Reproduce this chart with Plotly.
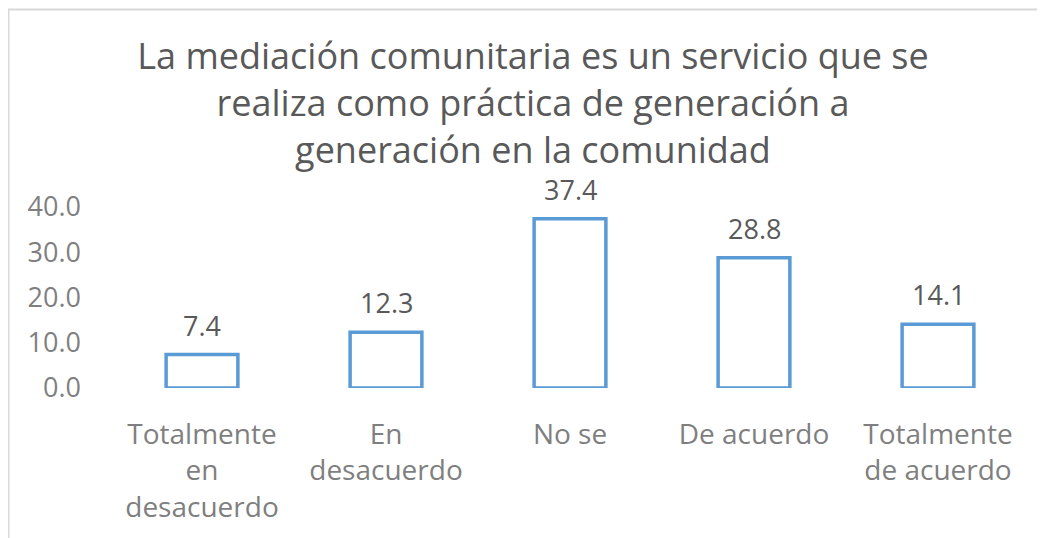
import plotly.graph_objects as go

categories = ["Totalmente<br>en<br>desacuerdo", "En<br>desacuerdo", "No se", "De acuerdo", "Totalmente<br>de acuerdo"]
values = [7.4, 12.3, 37.4, 28.8, 14.1]
y_ticks = [0, 10, 20, 30, 40]
title_text = "La mediación comunitaria es un servicio que se<br>realiza como práctica de generación a<br>generación en la comunidad"

W, H = 1045, 538
OFF = 8  # page body offset
L, R, T, B = 110 - OFF, 15 + OFF, 207 - OFF, 150 + OFF
pw, ph = W - L - R, H - T - B

fig = go.Figure()
fig.add_trace(go.Bar(
    x=categories, y=values,
    marker=dict(color="white", line=dict(color="#5B9BD5", width=3.5)),
    width=0.39,
))

for c, v in zip(categories, values):
    fig.add_annotation(x=c, y=v, text=f"{v:.1f}", showarrow=False,
                       yanchor="bottom", yshift=9,
                       font=dict(family="Open Sans", size=27, color="#595959"))

def px_to_paper_x(px):
    return (px - OFF - L) / pw

def px_to_paper_y(py):
    return (H - B - (py - OFF)) / ph

fig.add_shape(type="path", xref="paper", yref="paper",
              path=f"M {px_to_paper_x(8.5)} {px_to_paper_y(560)} L {px_to_paper_x(8.5)} {px_to_paper_y(9.5)} L {px_to_paper_x(1060)} {px_to_paper_y(9.5)}",
              line=dict(color="#D9D9D9", width=2))

fig.update_layout(
    width=W, height=H,
    margin=dict(l=L, r=R, t=T, b=B),
    paper_bgcolor="white", plot_bgcolor="white",
    showlegend=False,
    title=dict(text=title_text, x=(533 - OFF) / W, xanchor="center", xref="container",
               y=1 - 61 / H, yanchor="top",
               font=dict(family="Open Sans", size=36, color="#595959")),
    xaxis=dict(showgrid=False, showline=False, zeroline=False, ticks="",
               ticklabelstandoff=27,
               tickfont=dict(family="Open Sans", size=28, color="#7F7F7F")),
    yaxis=dict(range=[0, 40], tickvals=y_ticks, ticktext=[f"{t:.1f}" for t in y_ticks],
               showgrid=False, showline=False, zeroline=False, ticks="",
               ticklabelstandoff=28,
               tickfont=dict(family="Open Sans", size=27, color="#7F7F7F")),
)

fig.write_html("out.html")
